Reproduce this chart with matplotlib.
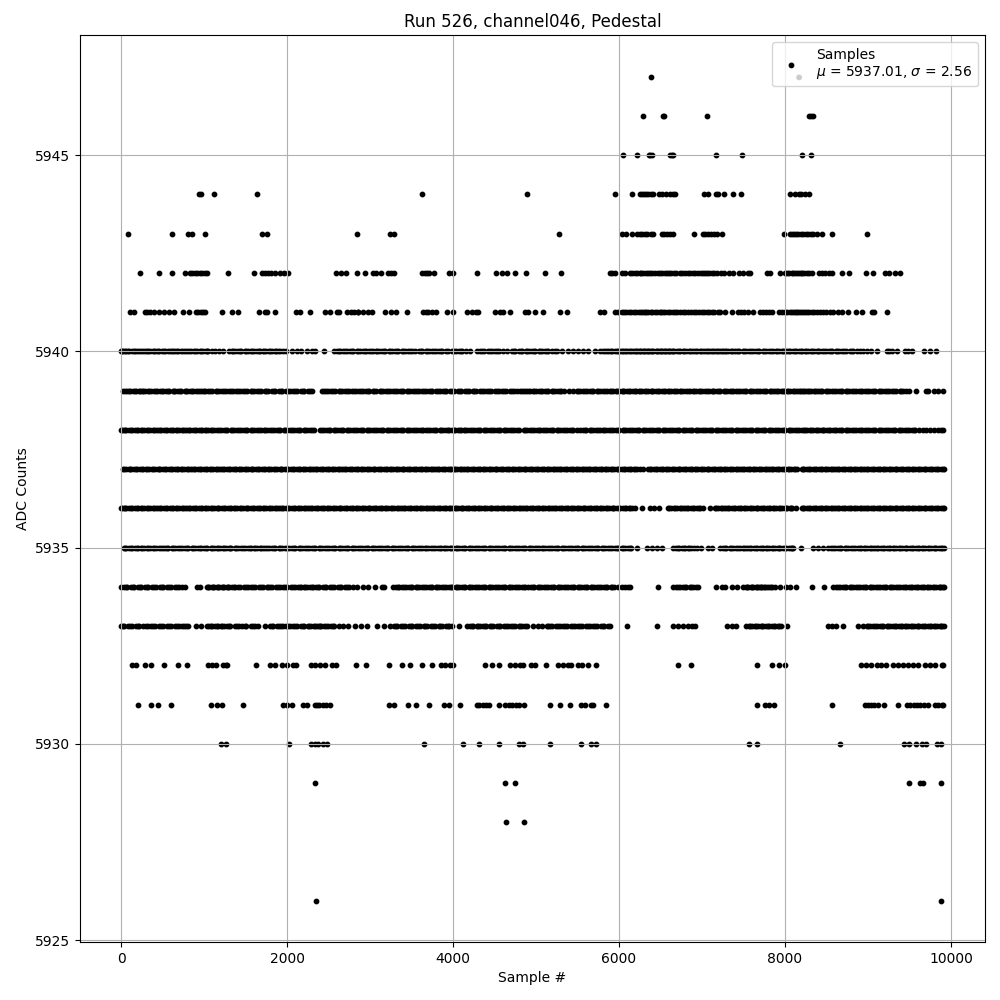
import matplotlib
matplotlib.use("Agg")
import matplotlib.pyplot as plt
from matplotlib.legend_handler import HandlerPathCollection

# sample numbers, one list per ADC level
s5947 = [6390]
s5946 = [6293, 6525, 6540, 7064, 8293, 8315, 8333]
s5945 = [6052, 6221, 6360, 6375, 6395, 6620, 6640, 6655, 7173, 7486, 8209, 8317]
s5944 = [944, 968, 1124, 1643, 3630, 4895, 5955, 6160, 6250, 6280, 6300, 6330, 6350, 6380, 6410,
         6486, 6520, 6570, 6620, 6650, 6675, 7024, 7076, 7170, 7197, 7261, 7377, 7474,
         8060, 8120, 8170, 8193, 8240, 8290]
s5943 = [88, 618, 811, 859, 1016, 1703, 1755, 2847, 3245, 3293, 5281, 6032, 6080, 6152,
         6220, 6250, 6280, 6310, 6340, 6380, 6410, 6514, 6540, 6580, 6620, 6655, 6908,
         7010, 7040, 7070, 7110, 7150, 7175, 7237, 7992, 8060, 8080, 8110, 8130, 8160,
         8190, 8220, 8250, 8280, 8310, 8340, 8381, 8442, 8562, 8992]
s5942 = [233, 462, 618, 770, 830, 860, 890, 920, 950, 980, 1010, 1040, 1293, 1606, 1700, 1730,
         1770, 1810, 1860, 1920, 1960, 2016, 2590, 2647, 2707, 2847, 2940, 3040, 3068, 3136,
         3221, 3253, 3293, 3630, 3660, 3690, 3715, 3775, 3955, 4004, 4293, 4522, 4586, 4654,
         4743, 4883, 5112, 5305, 5891, 5915, 5952, 6032, 6072, 6130, 6160, 6190, 6220, 6250,
         6270, 6290, 6320, 6345, 6370, 6400, 6430, 6470, 6490, 6520, 6550, 6580, 6600, 6630,
         6660, 6690, 6735, 6760, 6790, 6830, 6860, 6890, 6920, 6950, 6990, 7010, 7040, 7065,
         7090, 7120, 7150, 7180, 7225, 7270, 7320, 7375, 7440, 7498, 7558, 7578, 7780, 7820,
         7940, 8000, 8020, 8050, 8080, 8100, 8120, 8140, 8165, 8190, 8210, 8235, 8260, 8290,
         8320, 8410, 8440, 8480, 8530, 8570, 8690, 8775, 8980, 9064, 9205, 9257, 9325, 9385]
s5941 = [108, 161, 289, 317, 349, 401, 462, 518, 582, 638, 751, 823, 903, 930, 960, 990, 1012,
         1213, 1341, 1414, 1666, 1735, 1763, 1859, 2108, 2157, 2277, 2458, 2518, 2598, 2630,
         2727, 2770, 2810, 2850, 2860, 2920, 2980, 3020, 3185, 3253, 3309, 3441, 3634, 3674,
         3700, 3750, 3795, 3931, 4004, 4172, 4224, 4277, 4305, 4506, 4566, 4606, 4686, 4867,
         4907, 4987, 5088, 5289, 5369, 5770, 5823, 5952, 5990, 6030, 6060, 6090, 6120, 6150,
         6180, 6210, 6240, 6260, 6285, 6310, 6330, 6355, 6380, 6400, 6430, 6460, 6490, 6510,
         6535, 6560, 6590, 6620, 6650, 6680, 6703, 6735, 6770, 6800, 6830, 6870, 6900, 6930,
         6965, 7000, 7030, 7060, 7090, 7120, 7150, 7190, 7217, 7277, 7357, 7437, 7470, 7510,
         7558, 7618, 7699, 7730, 7770, 7810, 7839, 7928, 7960, 8000, 8030, 8060, 8080, 8105,
         8130, 8150, 8170, 8195, 8220, 8240, 8265, 8290, 8320, 8350, 8385, 8420, 8460, 8500,
         8540, 8582, 8642, 8683, 8763, 8855, 8932, 9044, 9072, 9233]
s5940 = [0, 25, 60, 95, 130, 170, 215, 260, 310, 345, 380, 420, 460, 495, 530, 570, 610, 650, 690,
         725, 765, 800, 840, 875, 915, 950, 985, 1020, 1050, 1095, 1135, 1175, 1225, 1300, 1335,
         1370, 1410, 1450, 1490, 1525, 1560, 1600, 1640, 1675, 1710, 1745, 1780, 1815, 1850,
         1890, 1920, 1950, 1988, 2056, 2116, 2165, 2237, 2297, 2337, 2450, 2566, 2600, 2640,
         2680, 2720, 2760, 2800, 2840, 2880, 2920, 2955, 2990, 3030, 3070, 3105, 3145, 3185,
         3225, 3265, 3305, 3340, 3380, 3420, 3460, 3500, 3545, 3590, 3630, 3670, 3710, 3750,
         3790, 3830, 3870, 3910, 3943, 3990, 4030, 4070, 4110, 4160, 4200, 4285, 4330, 4370,
         4420, 4470, 4510, 4550, 4600, 4646, 4710, 4750, 4790, 4835, 4875, 4915, 4955, 4990,
         5030, 5070, 5110, 5150, 5190, 5225, 5249, 5309, 5381, 5449, 5510, 5562, 5630, 5710,
         5771, 5810, 5850, 5885, 5920, 5955, 5985, 6015, 6045, 6075, 6105, 6135, 6165, 6190,
         6215, 6240, 6265, 6290, 6315, 6340, 6365, 6390, 6415, 6440, 6465, 6490, 6515, 6540,
         6565, 6590, 6615, 6640, 6665, 6700, 6735, 6770, 6805, 6840, 6875, 6905, 6940, 6975,
         7010, 7040, 7070, 7100, 7130, 7160, 7190, 7220, 7250, 7280, 7310, 7345, 7380, 7415,
         7450, 7490, 7530, 7570, 7610, 7650, 7690, 7730, 7770, 7810, 7850, 7890, 7925, 7960,
         7995, 8030, 8065, 8100, 8135, 8170, 8205, 8240, 8275, 8310, 8345, 8380, 8415, 8450,
         8490, 8530, 8570, 8610, 8650, 8690, 8735, 8780, 8825, 8870, 8904, 8944, 8990, 9040,
         9104, 9225, 9255, 9290, 9345, 9445, 9485, 9525, 9675, 9747, 9823]
s5939 = [20, 75, 110, 145, 180, 215, 250, 290, 325, 360, 400, 435, 470, 510, 545, 580, 620, 655,
         690, 725, 765, 800, 835, 870, 905, 945, 980, 1015, 1050, 1100, 1140, 1180, 1220, 1260,
         1300, 1345, 1390, 1430, 1470, 1515, 1560, 1600, 1640, 1685, 1730, 1770, 1815, 1860,
         1900, 1945, 1990, 2030, 2075, 2120, 2165, 2210, 2255, 2295, 2425, 2450, 2490,
         2535, 2575, 2620, 2660, 2700, 2745, 2785, 2830, 2870, 2910, 2950, 2990, 3030, 3075,
         3115, 3155, 3195, 3240, 3280, 3320, 3360, 3400, 3440, 3480, 3520, 3545, 3590, 3630,
         3670, 3710, 3750, 3795, 3840, 3880, 3920, 3965, 4010, 4055, 4100, 4145, 4190, 4235,
         4280, 4325, 4370, 4415, 4460, 4505, 4550, 4595, 4640, 4685, 4730, 4775, 4810, 4850,
         4885, 4925, 4960, 5000, 5035, 5075, 5110, 5150, 5190, 5230, 5265, 5305, 5340, 5400,
         5450, 5490, 5530, 5570, 5610, 5650, 5690, 5730, 5770, 5810, 5850, 5890, 5925, 5960,
         5995, 6030, 6065, 6100, 6135, 6170, 6205, 6240, 6275, 6310, 6345, 6380, 6415, 6450,
         6485, 6520, 6555, 6590, 6625, 6660, 6695, 6730, 6770, 6810, 6850, 6890, 6925, 6960,
         7000, 7040, 7080, 7115, 7150, 7185, 7220, 7260, 7300, 7340, 7375, 7415, 7455, 7495,
         7535, 7575, 7615, 7655, 7695, 7735, 7775, 7815, 7850, 7885, 7920, 7955, 7990, 8025,
         8060, 8095, 8130, 8160, 8190, 8220, 8250, 8280, 8310, 8345, 8380, 8415, 8450, 8490,
         8530, 8570, 8610, 8650, 8690, 8730, 8770, 8810, 8850, 8890, 8930, 8970, 9010, 9050,
         9090, 9130, 9170, 9210, 9250, 9290, 9335, 9380, 9420, 9460, 9500, 9578, 9699, 9727,
         9795, 9847, 9900]
s5938 = [0, 30, 65, 100, 135, 170, 205, 240, 275, 310, 345, 380, 415, 450, 485, 520, 555, 590,
         625, 660, 695, 730, 765, 800, 835, 870, 905, 940, 975, 1010, 1045, 1080, 1120, 1160,
         1200, 1240, 1280, 1320, 1360, 1400, 1440, 1480, 1520, 1560, 1600, 1640, 1680, 1720,
         1760, 1800, 1840, 1880, 1920, 1960, 2000, 2040, 2080, 2120, 2160, 2200, 2240, 2280,
         2320, 2395, 2440, 2480, 2520, 2560, 2600, 2640, 2680, 2720, 2760, 2800, 2840, 2880,
         2920, 2960, 3000, 3040, 3080, 3120, 3160, 3200, 3240, 3280, 3320, 3360, 3400, 3440,
         3480, 3520, 3560, 3600, 3640, 3680, 3720, 3760, 3800, 3840, 3880, 3920, 3955, 3990,
         4025, 4060, 4095, 4130, 4170, 4210, 4250, 4290, 4330, 4370, 4410, 4450, 4490, 4530,
         4570, 4610, 4650, 4690, 4730, 4770, 4800, 4850, 4890, 4930, 4970, 5010, 5050, 5090,
         5130, 5170, 5210, 5250, 5290, 5330, 5370, 5410, 5450, 5490, 5525, 5565, 5605, 5645,
         5685, 5725, 5765, 5805, 5845, 5885, 5925, 5965, 6005, 6045, 6085, 6125, 6165, 6205,
         6245, 6285, 6325, 6365, 6405, 6445, 6485, 6525, 6565, 6605, 6645, 6685, 6725, 6765,
         6805, 6845, 6885, 6925, 6965, 7005, 7045, 7085, 7125, 7165, 7205, 7245, 7285, 7325,
         7365, 7405, 7445, 7485, 7525, 7565, 7605, 7645, 7685, 7725, 7765, 7805, 7845, 7885,
         7925, 7965, 8005, 8045, 8085, 8125, 8165, 8205, 8245, 8270, 8300, 8335, 8370, 8405,
         8440, 8475, 8510, 8545, 8580, 8615, 8650, 8690, 8730, 8770, 8810, 8850, 8890, 8930,
         8970, 9010, 9050, 9090, 9130, 9170, 9210, 9250, 9290, 9330, 9370, 9410, 9450, 9490,
         9530, 9570, 9615, 9660, 9705, 9750, 9795, 9840, 9875, 9908]
s5937 = [20, 55, 90, 125, 160, 195, 230, 265, 300, 335, 370, 405, 440, 475, 510, 545, 580, 615,
         650, 685, 720, 755, 790, 825, 860, 895, 930, 965, 1000, 1035, 1070, 1105, 1140, 1175,
         1210, 1245, 1280, 1315, 1350, 1385, 1420, 1455, 1490, 1525, 1560, 1595, 1630, 1665,
         1700, 1735, 1770, 1805, 1840, 1875, 1910, 1945, 1980, 2015, 2050, 2085, 2120, 2155,
         2190, 2225, 2260, 2295, 2330, 2365, 2400, 2435, 2470, 2505, 2540, 2575, 2610, 2645,
         2680, 2715, 2750, 2785, 2820, 2855, 2890, 2925, 2960, 2995, 3030, 3065, 3100, 3135,
         3170, 3205, 3240, 3275, 3310, 3345, 3380, 3415, 3450, 3485, 3520, 3555, 3590, 3625,
         3660, 3695, 3730, 3765, 3800, 3835, 3870, 3905, 3940, 3975, 4010, 4045, 4080, 4115,
         4150, 4185, 4220, 4255, 4290, 4325, 4360, 4395, 4430, 4465, 4500, 4535, 4570, 4605,
         4640, 4675, 4710, 4745, 4780, 4815, 4850, 4885, 4920, 4955, 4990, 5025, 5060, 5095,
         5130, 5165, 5200, 5235, 5270, 5305, 5340, 5375, 5410, 5445, 5480, 5515, 5550, 5585,
         5620, 5655, 5690, 5725, 5760, 5795, 5830, 5865, 5900, 5935, 5970, 6005, 6040, 6075,
         6110, 6145, 6180, 6215, 6250, 6285, 6355, 6390, 6425, 6460, 6495, 6530, 6565, 6600,
         6635, 6670, 6705, 6740, 6775, 6810, 6845, 6880, 6915, 6950, 6985, 7020, 7055, 7090,
         7125, 7160, 7195, 7230, 7265, 7300, 7335, 7370, 7405, 7440, 7475, 7510, 7545, 7580,
         7615, 7650, 7685, 7720, 7755, 7790, 7825, 7860, 7895, 7930, 7965, 8000, 8035, 8070,
         8105, 8140, 8200, 8235, 8270, 8305, 8340, 8375, 8410, 8445, 8480, 8515, 8550, 8585,
         8620, 8655, 8690, 8725, 8760, 8795, 8830, 8865, 8900, 8935, 8970, 9005, 9040, 9075,
         9110, 9145, 9180, 9215, 9250, 9285, 9320, 9355, 9390, 9425, 9460, 9495, 9530, 9565,
         9600, 9635, 9670, 9705, 9740, 9775, 9810, 9845, 9880, 9915]
s5936 = [0, 30, 65, 100, 135, 170, 205, 240, 275, 310, 345, 380, 415, 450, 485, 520, 555, 590,
         625, 660, 695, 730, 765, 800, 835, 870, 905, 940, 975, 1010, 1045, 1080, 1115, 1150,
         1185, 1220, 1255, 1290, 1325, 1360, 1395, 1430, 1465, 1500, 1535, 1570, 1605, 1640,
         1675, 1710, 1745, 1780, 1815, 1850, 1885, 1920, 1955, 1990, 2025, 2060, 2095, 2130,
         2165, 2200, 2235, 2270, 2305, 2340, 2375, 2410, 2445, 2480, 2515, 2550, 2585, 2620,
         2655, 2690, 2725, 2760, 2795, 2830, 2865, 2900, 2935, 2970, 3005, 3040, 3075, 3110,
         3145, 3180, 3215, 3250, 3285, 3320, 3355, 3390, 3425, 3460, 3495, 3530, 3565, 3600,
         3635, 3670, 3705, 3740, 3775, 3810, 3845, 3880, 3915, 3950, 3985, 4020, 4055, 4090,
         4125, 4160, 4195, 4230, 4265, 4300, 4335, 4370, 4405, 4440, 4475, 4510, 4545, 4580,
         4615, 4650, 4685, 4720, 4755, 4790, 4825, 4860, 4895, 4930, 4965, 5000, 5035, 5070,
         5105, 5140, 5175, 5210, 5245, 5280, 5315, 5350, 5385, 5420, 5455, 5490, 5525, 5560,
         5595, 5630, 5665, 5700, 5735, 5770, 5805, 5840, 5875, 5910, 5945, 5980, 6015, 6050,
         6085, 6120, 6155, 6192, 6280, 6370, 6420, 6480, 6590, 6625, 6660, 6695, 6730, 6765,
         6800, 6835, 6870, 6905, 6940, 6975, 7016, 7096, 7157, 7190, 7225, 7260, 7295, 7330,
         7365, 7400, 7435, 7470, 7505, 7540, 7575, 7610, 7645, 7680, 7715, 7750, 7785, 7820,
         7855, 7890, 7925, 7960, 7995, 8030, 8065, 8090, 8128, 8200, 8235, 8270, 8305, 8340,
         8375, 8410, 8445, 8480, 8515, 8550, 8585, 8620, 8655, 8690, 8725, 8760, 8795, 8830,
         8865, 8900, 8935, 8970, 9005, 9040, 9075, 9110, 9145, 9180, 9215, 9250, 9285, 9320,
         9355, 9390, 9425, 9460, 9495, 9530, 9565, 9600, 9635, 9670, 9705, 9740, 9775, 9810,
         9845, 9880, 9915]
s5935 = [30, 65, 100, 135, 170, 205, 240, 275, 310, 345, 380, 420, 460, 500, 535, 570, 610, 650,
         690, 730, 770, 810, 850, 890, 930, 965, 1000, 1040, 1080, 1120, 1155, 1190, 1225, 1260,
         1295, 1330, 1370, 1410, 1450, 1490, 1530, 1565, 1600, 1635, 1670, 1705, 1740, 1780,
         1820, 1860, 1900, 1940, 1980, 2020, 2060, 2100, 2140, 2180, 2220, 2260, 2300, 2340,
         2380, 2420, 2460, 2500, 2540, 2580, 2620, 2660, 2700, 2740, 2780, 2820, 2860, 2900,
         2940, 2980, 3020, 3060, 3100, 3140, 3180, 3220, 3260, 3300, 3340, 3380, 3420, 3460,
         3500, 3540, 3580, 3620, 3660, 3700, 3740, 3780, 3820, 3855, 3890, 3925, 3960, 3995,
         4030, 4070, 4110, 4150, 4190, 4230, 4270, 4310, 4350, 4390, 4430, 4470, 4510, 4550,
         4590, 4630, 4670, 4710, 4750, 4790, 4830, 4870, 4910, 4950, 4990, 5030, 5070, 5110,
         5150, 5190, 5230, 5270, 5310, 5350, 5390, 5430, 5470, 5510, 5550, 5590, 5630, 5670,
         5710, 5750, 5790, 5830, 5870, 5910, 5950, 5990, 6030, 6070, 6110, 6150, 6212, 6341,
         6393, 6453, 6513, 6654, 6690, 6725, 6760, 6795, 6830, 6865, 6900, 6936, 6984, 7076,
         7116, 7217, 7255, 7295, 7335, 7375, 7415, 7455, 7490, 7525, 7560, 7595, 7630, 7665,
         7700, 7735, 7770, 7805, 7840, 7875, 7910, 7945, 7980, 8015, 8050, 8085, 8100, 8189,
         8341, 8402, 8454, 8522, 8560, 8600, 8640, 8680, 8720, 8760, 8800, 8840, 8880, 8915,
         8950, 8985, 9020, 9055, 9090, 9125, 9160, 9195, 9230, 9265, 9300, 9335, 9370, 9405,
         9440, 9475, 9510, 9545, 9580, 9615, 9650, 9685, 9720, 9755, 9790, 9825, 9860, 9890, 9915]
s5934 = [0, 35, 75, 115, 160, 200, 245, 290, 330, 375, 420, 470, 510, 555, 600, 650, 700, 740, 771,
         912, 952, 1032, 1065, 1095, 1125, 1155, 1185, 1215, 1245, 1275, 1305, 1340, 1375, 1410,
         1434, 1480, 1525, 1570, 1615, 1665, 1710, 1755, 1775, 1820, 1865, 1910, 1955, 2000,
         2045, 2090, 2130, 2165, 2200, 2240, 2280, 2315, 2350, 2390, 2430, 2475, 2520, 2565,
         2610, 2655, 2700, 2750, 2800, 2840, 2920, 2980, 3060, 3150, 3170, 3281, 3315, 3350,
         3390, 3430, 3470, 3510, 3550, 3590, 3630, 3670, 3710, 3750, 3790, 3830, 3870, 3910,
         3950, 3990, 4030, 4070, 4110, 4150, 4190, 4230, 4270, 4310, 4350, 4390, 4430, 4470,
         4510, 4550, 4590, 4630, 4670, 4710, 4750, 4790, 4830, 4870, 4905, 4940, 4980, 5020,
         5060, 5100, 5140, 5180, 5220, 5260, 5300, 5340, 5380, 5420, 5460, 5500, 5540, 5580,
         5620, 5660, 5700, 5740, 5780, 5820, 5860, 5900, 5940, 5985, 6032, 6072, 6110, 6130,
         6473, 6654, 6690, 6730, 6770, 6810, 6850, 6890, 6925, 6956, 7169, 7237, 7277, 7357,
         7426, 7498, 7530, 7560, 7590, 7620, 7645, 7670, 7695, 7720, 7750, 7780, 7810, 7845,
         7880, 7940, 8008, 8060, 8128, 8329, 8474, 8582, 8620, 8660, 8700, 8740, 8780, 8820,
         8860, 8900, 8940, 8980, 9020, 9060, 9100, 9140, 9180, 9220, 9260, 9300, 9340, 9380,
         9420, 9460, 9500, 9535, 9570, 9605, 9640, 9675, 9710, 9745, 9780, 9815, 9850, 9885, 9915]
s5933 = [0, 40, 85, 130, 175, 220, 270, 320, 365, 410, 455, 505, 555, 600, 650, 695, 740, 780, 812,
         904, 960, 1032, 1065, 1100, 1135, 1170, 1205, 1240, 1275, 1313, 1373, 1415, 1460, 1510,
         1560, 1610, 1654, 1735, 1795, 1835, 1880, 1925, 1956, 1988, 2030, 2075, 2120, 2165,
         2210, 2250, 2290, 2325, 2355, 2385, 2415, 2450, 2490, 2530, 2570, 2620, 2679, 2739,
         2820, 2888, 2968, 3088, 3173, 3241, 3285, 3330, 3375, 3420, 3465, 3510, 3555, 3600,
         3645, 3690, 3735, 3780, 3825, 3870, 3915, 3950, 3983, 4072, 4164, 4205, 4245, 4285,
         4325, 4365, 4400, 4440, 4480, 4526, 4570, 4615, 4660, 4700, 4745, 4790, 4830, 4867,
         4887, 4967, 5028, 5075, 5128, 5148, 5195, 5240, 5285, 5330, 5375, 5420, 5465, 5510,
         5555, 5600, 5645, 5690, 5735, 5780, 5825, 5865, 5891, 6092, 6461, 6654, 6714, 6775,
         6835, 6880, 6916, 7297, 7357, 7410, 7530, 7565, 7600, 7635, 7670, 7705, 7740, 7775,
         7810, 7845, 7880, 7915, 7952, 8028, 8522, 8565, 8620, 8703, 8875, 8944, 8985, 9025,
         9065, 9105, 9145, 9185, 9225, 9265, 9305, 9340, 9375, 9410, 9445, 9480, 9515, 9550,
         9585, 9620, 9655, 9690, 9725, 9760, 9795, 9830, 9865, 9890, 9915]
s5932 = [129, 181, 289, 357, 522, 683, 799, 1044, 1092, 1140, 1233, 1260, 1281, 1630, 1795, 1855,
         1936, 1996, 2076, 2105, 2289, 2337, 2397, 2458, 2538, 2586, 2827, 2956, 3233, 3381,
         3481, 3622, 3742, 3851, 3903, 3963, 3995, 4385, 4465, 4558, 4686, 4747, 4807, 4847,
         4935, 4987, 5124, 5269, 5329, 5389, 5417, 5510, 5550, 5622, 5726, 6714, 6870, 7659,
         7839, 7932, 8004, 8916, 8976, 9032, 9104, 9157, 9217, 9305, 9365, 9426, 9486, 9546,
         9606, 9687, 9747, 9807, 9888, 9908]
s5931 = [209, 365, 450, 606, 1084, 1153, 1213, 1474, 1956, 1996, 2064, 2189, 2237, 2337, 2360, 2390,
         2430, 2475, 2518, 3233, 3289, 3461, 3554, 3714, 3895, 3947, 4088, 4285, 4313, 4365,
         4400, 4438, 4558, 4630, 4670, 4710, 4755, 4795, 4855, 5172, 5293, 5413, 5542, 5590,
         5662, 5682, 5847, 7667, 7759, 7811, 7863, 8570, 8960, 9000, 9040, 9070, 9120, 9197,
         9365, 9474, 9510, 9550, 9590, 9630, 9680, 9722, 9807, 9847, 9888, 9908]
s5930 = [1205, 1261, 2028, 2289, 2337, 2377, 2438, 2486, 3654, 4124, 4317, 4558, 4799, 4839, 5172,
         5546, 5662, 5718, 7570, 7667, 8667, 9438, 9490, 9574, 9655, 9695, 9835, 9875]
s5929 = [2341, 4622, 4751, 9498, 9627, 9667, 9876]
s5928 = [4635, 4860]
s5926 = [2353, 9876]

# more samples in the stretches where a row reads as a solid band
more5940 = [12, 42, 78, 150, 192, 238, 285, 328, 400, 440, 512, 590, 630, 670, 745, 820, 895, 968,
            1035, 1352, 1430, 1508, 1580, 1658, 1728, 1798, 1870, 2620, 2700, 2780, 2860, 2938,
            3010, 3088, 3165, 3245, 3322, 3400, 3480, 3610, 3690, 3770, 3850, 4010, 4090, 4350,
            4445, 4530, 4730, 4815, 4895, 4972, 5050, 5130, 5830, 5900, 5970, 6030, 6090, 6150,
            6202, 6252, 6302, 6352, 6402, 6452, 6502, 6552, 6602, 6652, 6718, 6788, 6858, 6922,
            6992, 7055, 7115, 7175, 7235, 7295, 7362, 7432, 7510, 7590, 7670, 7750, 7830, 7908,
            7978, 8048, 8118, 8188, 8258, 8328, 8398, 8470, 8550, 8630, 8712, 8802]
more5939 = [48, 92, 162, 232, 270, 342, 418, 490, 562, 638, 708, 782, 852, 925, 998, 1075, 1160,
            1240, 1322, 1410, 1492, 1580, 1662, 1750, 1838, 1922, 2010, 2098, 2188, 2275, 2470,
            2555, 2640, 2722, 2808, 2890, 2970, 3052, 3135, 3218, 3300, 3380, 3460, 3568, 3650,
            3730, 3815, 3900, 3988, 4078, 4168, 4258, 4348, 4438, 4528, 4618, 4708, 4830, 4905,
            4980, 5055, 5130, 5210, 5285, 5510, 5590, 5670, 5750, 5830, 5908, 5978, 6048, 6118,
            6188, 6258, 6328, 6398, 6468, 6538, 6608, 6678, 6750, 6830, 6908, 6980, 7060, 7132,
            7202, 7280, 7358, 7435, 7515, 7595, 7675, 7755, 7832, 7902, 7972, 8042, 8112, 8175,
            8235, 8295, 8362, 8432, 8510, 8590, 8670, 8750, 8830, 8910, 8990, 9070, 9150, 9230,
            9312, 9400]
more5938 = [15, 48, 118, 188, 258, 328, 398, 468, 538, 608, 678, 748, 818, 888, 958, 1028, 1100,
            1180, 1260, 1340, 1420, 1500, 1580, 1660, 1740, 1820, 1900, 1980, 2060, 2140, 2220,
            2300, 2418, 2500, 2580, 2660, 2740, 2820, 2900, 2980, 3060, 3140, 3220, 3300, 3380,
            3460, 3540, 3620, 3700, 3780, 3860, 3938, 4008, 4078, 4150, 4230, 4310, 4390, 4470,
            4550, 4630, 4710, 4870, 4950, 5030, 5110, 5190, 5270, 5350, 5430, 5585, 5665, 5745,
            5825, 5905, 5985, 6065, 6145, 6225, 6305, 6385, 6465, 6545, 6625, 6705, 6785, 6865,
            6945, 7025, 7105, 7185, 7265, 7345, 7425, 7505, 7585, 7665, 7745, 7825, 7905, 7985,
            8065, 8145, 8225, 8318, 8388, 8458, 8528, 8598, 8670, 8750, 8830, 8910, 8990, 9070,
            9150, 9230, 9310, 9390, 9470, 9550]
more5937 = [38, 108, 178, 248, 318, 388, 458, 528, 598, 668, 738, 808, 878, 948, 1018, 1088, 1158,
            1228, 1298, 1368, 1438, 1508, 1578, 1648, 1718, 1788, 1858, 1928, 1998, 2068, 2138,
            2208, 2278, 2348, 2418, 2488, 2558, 2628, 2698, 2768, 2838, 2908, 2978, 3048, 3118,
            3188, 3258, 3328, 3398, 3468, 3538, 3608, 3678, 3748, 3818, 3888, 3958, 4028, 4098,
            4168, 4238, 4308, 4378, 4448, 4518, 4588, 4658, 4728, 4798, 4868, 4938, 5008, 5078,
            5148, 5218, 5288, 5358, 5428, 5498, 5568, 5638, 5708, 5778, 5848, 5918, 5988, 6058,
            6128, 6198, 6372, 6442, 6512, 6582, 6652, 6722, 6792, 6862, 6932, 7002, 7072, 7142,
            7212, 7282, 7352, 7422, 7492, 7562, 7632, 7702, 7772, 7842, 7912, 7982, 8052, 8122,
            8218, 8288, 8358, 8428, 8498, 8568, 8638, 8708, 8778, 8848, 8918, 8988, 9058, 9128,
            9198, 9268, 9338, 9408, 9478, 9548, 9618, 9688, 9758, 9828, 9898]
more5936 = [15, 48, 118, 188, 258, 328, 398, 468, 538, 608, 678, 748, 818, 888, 958, 1028, 1098,
            1168, 1238, 1308, 1378, 1448, 1518, 1588, 1658, 1728, 1798, 1868, 1938, 2008, 2078,
            2148, 2218, 2288, 2358, 2428, 2498, 2568, 2638, 2708, 2778, 2848, 2918, 2988, 3058,
            3128, 3198, 3268, 3338, 3408, 3478, 3548, 3618, 3688, 3758, 3828, 3898, 3968, 4038,
            4108, 4178, 4248, 4318, 4388, 4458, 4528, 4598, 4668, 4738, 4808, 4878, 4948, 5018,
            5088, 5158, 5228, 5298, 5368, 5438, 5508, 5578, 5648, 5718, 5788, 5858, 5928, 5998,
            6068, 6138, 6608, 6678, 6748, 6818, 6888, 6958, 7172, 7242, 7312, 7382, 7452, 7522,
            7592, 7662, 7732, 7802, 7872, 7942, 8012, 8078, 8218, 8288, 8358, 8428, 8498, 8568,
            8638, 8708, 8778, 8848, 8918, 8988, 9058, 9128, 9198, 9268, 9338, 9408, 9478, 9548,
            9618, 9688, 9758, 9828, 9898]
more5935 = [48, 118, 188, 258, 328, 400, 480, 552, 630, 710, 790, 870, 948, 1020, 1100, 1172, 1242,
            1312, 1390, 1470, 1548, 1618, 1688, 1760, 1840, 1920, 2000, 2080, 2160, 2240, 2320,
            2400, 2480, 2560, 2640, 2720, 2800, 2880, 2960, 3040, 3120, 3200, 3280, 3360, 3440,
            3520, 3600, 3680, 3760, 3838, 3908, 3978, 4050, 4130, 4210, 4290, 4370, 4450, 4530,
            4610, 4690, 4770, 4850, 4930, 5010, 5090, 5170, 5250, 5330, 5410, 5490, 5570, 5650,
            5730, 5810, 5890, 5970, 6050, 6130, 6708, 6778, 6848, 7275, 7355, 7435, 7508, 7578,
            7648, 7718, 7788, 7858, 7928, 7998, 8068, 8580, 8660, 8740, 8820, 8898, 8968, 9038,
            9108, 9178, 9248, 9318, 9388, 9458, 9528, 9598, 9668, 9738, 9808, 9875]
more5934 = [55, 138, 222, 310, 398, 490, 578, 675, 1050, 1110, 1170, 1230, 1290, 1358, 1500, 1590,
            1690, 1795, 1888, 1978, 2068, 2150, 2220, 2298, 2370, 2452, 2542, 2632, 2725, 3332,
            3410, 3490, 3570, 3650, 3730, 3810, 3890, 3970, 4050, 4130, 4210, 4290, 4370, 4450,
            4530, 4610, 4690, 4770, 4850, 4960, 5040, 5120, 5200, 5280, 5360, 5440, 5520, 5600,
            5680, 5760, 5840, 5920, 6710, 6790, 6870, 7545, 7605, 7660, 7708, 7765, 7828, 8640,
            8720, 8800, 8880, 8960, 9040, 9120, 9200, 9280, 9360, 9440, 9518, 9588, 9658, 9728,
            9798, 9868, 9900]
more5933 = [20, 108, 198, 295, 388, 480, 578, 672, 760, 1082, 1152, 1222, 1295, 1395, 1490, 1590,
            1815, 1905, 2010, 2098, 2188, 2270, 2340, 2400, 2470, 2550, 3308, 3398, 3488, 3578,
            3668, 3758, 3848, 3935, 4225, 4305, 4385, 4460, 4550, 4640, 4722, 4810, 5172, 5262,
            5352, 5442, 5532, 5622, 5712, 5802, 7582, 7652, 7722, 7792, 7862, 7932, 9005, 9085,
            9165, 9245, 9322, 9392, 9462, 9532, 9602, 9672, 9742, 9812, 9878]

levels = [5947, 5946, 5945, 5944, 5943, 5942, 5941, 5940, 5939, 5938, 5937, 5936, 5935, 5934,
          5933, 5932, 5931, 5930, 5929, 5928, 5926, 5940, 5939, 5938, 5937, 5936, 5935, 5934, 5933]
rows = [s5947, s5946, s5945, s5944, s5943, s5942, s5941, s5940, s5939, s5938, s5937, s5936,
        s5935, s5934, s5933, s5932, s5931, s5930, s5929, s5928, s5926,
        more5940, more5939, more5938, more5937, more5936, more5935, more5934, more5933]

mean_adc = 5937.01
std_adc = 2.56


# legend dots sit close together, not spread over the handle
class CloseDots(HandlerPathCollection):
    def get_xdata(self, legend, xdescent, ydescent, width, height, fontsize):
        xs = [10.1, 15.6]
        return xs, xs


fig, ax = plt.subplots(figsize=(10, 10))

xs = []
ys = []
for lev, row in zip(levels, rows):
    xs += row
    ys += [lev] * len(row)
ax.scatter(xs, ys, s=10, color="black")

# proxy for the legend entry, one black and one light dot
proxy = ax.scatter([], [], s=10)
proxy.set_facecolor(["black", "#cccccc"])
proxy.set_edgecolor(["black", "#cccccc"])

ax.set_title("Run 526, channel046, Pedestal")
ax.set_xlabel("Sample #")
ax.set_ylabel("ADC Counts")
ax.set_xlim(-495, 10410)
ax.set_ylim(5924.95, 5948.06)
ax.set_yticks([5925, 5930, 5935, 5940, 5945])
ax.grid(True)
ax.legend([proxy], ["Samples\n$\\mu$ = %.2f, $\\sigma$ = %.2f" % (mean_adc, std_adc)],
          loc="upper right", scatterpoints=2, scatteryoffsets=[0.44, -0.79],
          handler_map={proxy: CloseDots()})

fig.subplots_adjust(left=0.08, right=0.985, top=0.965, bottom=0.058)
plt.savefig("out.png", dpi=100)
